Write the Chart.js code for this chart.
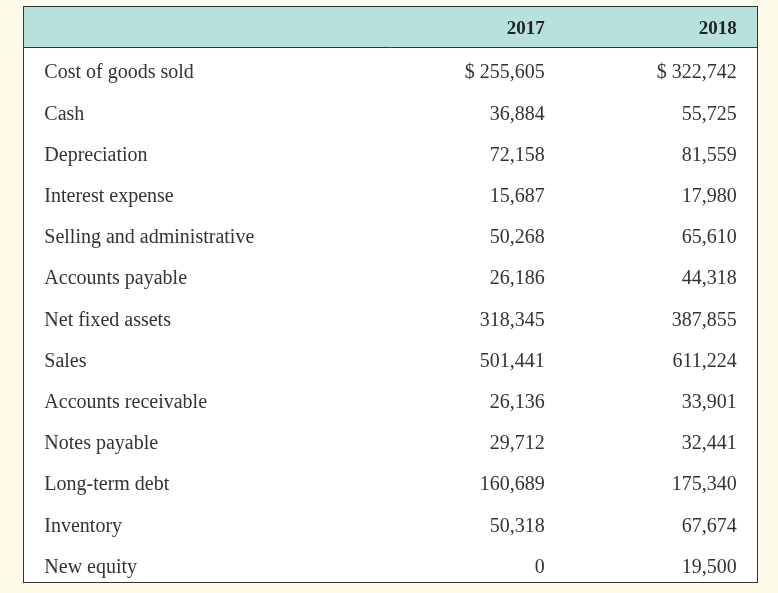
<!DOCTYPE html>
<html>
<head>
<meta charset="utf-8">
<script src="https://cdn.jsdelivr.net/npm/chart.js@4.4.1/dist/chart.umd.min.js"></script>
<style>
  html, body { margin: 0; padding: 0; background: #fffbeb; }
  #wrap { width: 778px; height: 593px; }
</style>
</head>
<body>
<div id="wrap"><canvas id="tableChart"></canvas></div>
<script>
// table data
const years = ["2017", "2018"];
const items = [
  "Cost of goods sold",
  "Cash",
  "Depreciation",
  "Interest expense",
  "Selling and administrative",
  "Accounts payable",
  "Net fixed assets",
  "Sales",
  "Accounts receivable",
  "Notes payable",
  "Long-term debt",
  "Inventory",
  "New equity"
];
const values2017 = [255605, 36884, 72158, 15687, 50268, 26186, 318345, 501441, 26136, 29712, 160689, 50318, 0];
const values2018 = [322742, 55725, 81559, 17980, 65610, 44318, 387855, 611224, 33901, 32441, 175340, 67674, 19500];

const series = [values2017, values2018];

function fmt(v, row) {
  const s = v.toLocaleString("en-US");
  return row === 0 ? "$ " + s : s;
}

// draws the table cells using the chart scales
const tablePlugin = {
  id: "tablePlugin",
  beforeDraw(chart, args, opts) {
    const { ctx, chartArea } = chart;
    const y = chart.scales.y;
    const band = y.getPixelForValue(1) - y.getPixelForValue(0);
    const headBottom = Math.round(y.getPixelForValue(0) + band / 2);
    ctx.save();
    ctx.fillStyle = "#ffffff";
    ctx.fillRect(chartArea.left, chartArea.top, chartArea.width, chartArea.height);
    ctx.fillStyle = "#b8e1dd";
    ctx.fillRect(chartArea.left, chartArea.top, chartArea.width, headBottom - chartArea.top);
    ctx.restore();
  },
  afterDraw(chart, args, opts) {
    const { ctx, chartArea } = chart;
    const x = chart.scales.x;
    const y = chart.scales.y;
    const band = y.getPixelForValue(1) - y.getPixelForValue(0);
    const headBottom = Math.round(y.getPixelForValue(0) + band / 2);
    ctx.save();

    // header
    ctx.font = "bold 19px 'Liberation Serif', serif";
    ctx.fillStyle = "#222";
    ctx.textAlign = "right";
    ctx.textBaseline = "alphabetic";
    years.forEach((yr, i) => {
      ctx.fillText(yr, x.getPixelForValue(opts.cols[i]), y.getPixelForValue(0) + 7.5);
    });

    // body rows
    ctx.font = "20px 'Liberation Serif', serif";
    ctx.fillStyle = "#333";
    items.forEach((name, r) => {
      const py = y.getPixelForValue(r + 1) + 10.5;
      ctx.textAlign = "left";
      ctx.fillText(name, x.getPixelForValue(opts.labelCol), py);
      ctx.textAlign = "right";
      series.forEach((vals, i) => {
        ctx.fillText(fmt(vals[r], r), x.getPixelForValue(opts.cols[i]), py);
      });
    });

    // borders
    ctx.strokeStyle = "#333";
    ctx.lineWidth = 1;
    ctx.beginPath();
    ctx.moveTo(chartArea.left, headBottom + 0.5);
    ctx.lineTo(chartArea.right, headBottom + 0.5);
    ctx.stroke();
    ctx.strokeRect(chartArea.left + 0.5, chartArea.top + 0.5, chartArea.width - 1, chartArea.height - 1);
    ctx.restore();
  }
};

new Chart(document.getElementById("tableChart"), {
  type: "scatter",
  data: { datasets: [] },
  plugins: [tablePlugin],
  options: {
    responsive: true,
    maintainAspectRatio: false,
    animation: false,
    layout: { padding: { left: 23, top: 6, right: 20, bottom: 10 } },
    plugins: {
      legend: { display: false },
      tooltip: { enabled: false },
      tablePlugin: { labelCol: 0.029, cols: [0.71, 0.971] }
    },
    scales: {
      x: { type: "linear", min: 0, max: 1, display: false },
      y: {
        type: "category",
        labels: [""].concat(items),
        offset: true,
        display: false
      }
    }
  }
});
</script>
</body>
</html>
